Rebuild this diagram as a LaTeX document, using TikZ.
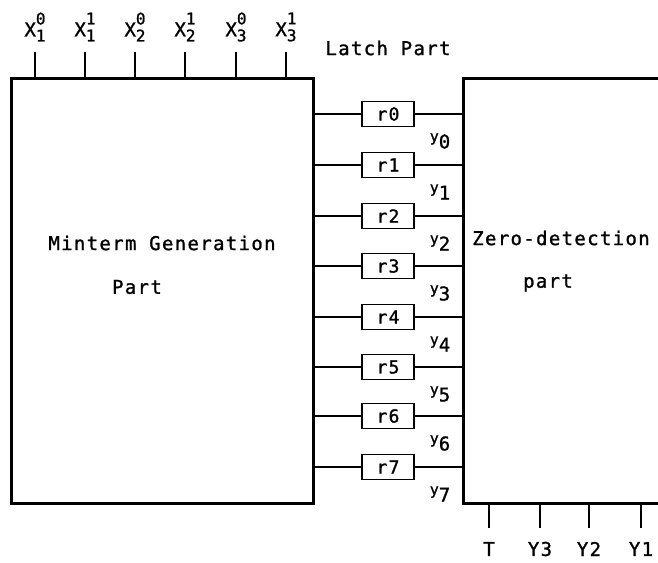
\documentclass[tikz,border=0pt]{standalone}
\usepackage{fontspec}
\setmainfont[LetterSpace=7,FakeBold=1.2]{DejaVu Sans Mono}
\newcommand\xlab[2]{X\rlap{\raisebox{12pt}{\fontsize{16}{16}\selectfont#1}}\raisebox{-5pt}{\fontsize{16}{16}\selectfont#2}}
\newcommand\ylab[1]{\raisebox{7pt}{\fontsize{15}{15}\selectfont y}#1}
\begin{document}
\begin{tikzpicture}[x=1pt,y=-1pt,
  block/.style={draw, line width=2.6pt, inner sep=0pt, anchor=north west},
  latch/.style={draw, line width=1.6pt, minimum width=52pt, minimum height=25pt, inner sep=0pt, font=\fontsize{18}{20}\selectfont},
  wire/.style={line width=1.4pt},
  tick/.style={line width=1.8pt},
  lbl/.style={inner sep=0pt, font=\fontsize{19}{21}\selectfont}]
\useasboundingbox (0,0) rectangle (658,562);
\clip (0,0) rectangle (658,562);
% main blocks
\node[block, minimum width=302pt, minimum height=425pt] (mg) at (10,77) {};
\node[block, minimum width=300pt, minimum height=425pt] (zd) at (462,77) {};
% block texts
\node[lbl] (mgt1) at (162,243) {Minterm Generation};
\node[lbl] (mgt2) at (137,287) {Part};
\node[lbl] (zdt1) at (561,238) {Zero-detection};
\node[lbl] (zdt2) at (548,283) {part};
\node[lbl] (latchp) at (388,48) {Latch Part};
% inputs
\foreach \i/\x/\a/\b in {1/35/0/1,2/85/1/1,3/135/0/2,4/185/1/2,5/236/0/3,6/286/1/3} {
  \coordinate (in\i) at (\x,52);
  \draw[tick] (in\i) -- (in\i |- mg.north);
  \node[lbl] (xl\i) at (\x,27) {\xlab{\a}{\b}};
}
% latches
\foreach \k/\y in {0/114,1/165,2/216,3/266,4/317,5/367,6/416,7/467} {
  \node[latch] (r\k) at (388,\y) {r\k};
  \draw[wire] (mg.east |- r\k) -- (r\k.west);
  \draw[wire] (r\k.east) -- (zd.west |- r\k);
  \node[lbl] (yl\k) at (440,\y+27) {\ylab{\k}};
}
% outputs
\foreach \i/\x/\t in {1/489/T,2/540/Y3,3/589/Y2,4/641/Y1} {
  \coordinate (out\i) at (\x,528);
  \draw[tick] (zd.south -| out\i) -- (out\i);
  \node[lbl] (ol\i) at (\x,549) {\t};
}
\end{tikzpicture}
\end{document}
